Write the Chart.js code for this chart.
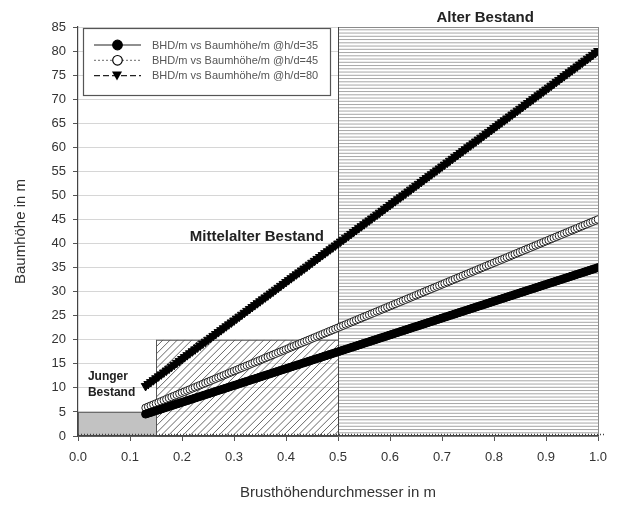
<!DOCTYPE html>
<html>
<head>
<meta charset="utf-8">
<script src="https://cdn.jsdelivr.net/npm/chart.js@4.4.1/dist/chart.umd.min.js"></script>
<style>
  html, body { margin: 0; padding: 0; background: #fff; }
  #wrap { width: 619px; height: 506px; }
</style>
</head>
<body>
<div id="wrap"><canvas id="hoehenChart" width="619" height="506"></canvas></div>
<script>
// Brusthöhendurchmesser in m
const bhd = [
  0.13, 0.135, 0.14, 0.145, 0.15, 0.155, 0.16, 0.165, 0.17, 0.175, 0.18, 0.185, 0.19, 0.195,
  0.20, 0.205, 0.21, 0.215, 0.22, 0.225, 0.23, 0.235, 0.24, 0.245, 0.25, 0.255, 0.26, 0.265, 0.27, 0.275, 0.28, 0.285, 0.29, 0.295,
  0.30, 0.305, 0.31, 0.315, 0.32, 0.325, 0.33, 0.335, 0.34, 0.345, 0.35, 0.355, 0.36, 0.365, 0.37, 0.375, 0.38, 0.385, 0.39, 0.395,
  0.40, 0.405, 0.41, 0.415, 0.42, 0.425, 0.43, 0.435, 0.44, 0.445, 0.45, 0.455, 0.46, 0.465, 0.47, 0.475, 0.48, 0.485, 0.49, 0.495,
  0.50, 0.505, 0.51, 0.515, 0.52, 0.525, 0.53, 0.535, 0.54, 0.545, 0.55, 0.555, 0.56, 0.565, 0.57, 0.575, 0.58, 0.585, 0.59, 0.595,
  0.60, 0.605, 0.61, 0.615, 0.62, 0.625, 0.63, 0.635, 0.64, 0.645, 0.65, 0.655, 0.66, 0.665, 0.67, 0.675, 0.68, 0.685, 0.69, 0.695,
  0.70, 0.705, 0.71, 0.715, 0.72, 0.725, 0.73, 0.735, 0.74, 0.745, 0.75, 0.755, 0.76, 0.765, 0.77, 0.775, 0.78, 0.785, 0.79, 0.795,
  0.80, 0.805, 0.81, 0.815, 0.82, 0.825, 0.83, 0.835, 0.84, 0.845, 0.85, 0.855, 0.86, 0.865, 0.87, 0.875, 0.88, 0.885, 0.89, 0.895,
  0.90, 0.905, 0.91, 0.915, 0.92, 0.925, 0.93, 0.935, 0.94, 0.945, 0.95, 0.955, 0.96, 0.965, 0.97, 0.975, 0.98, 0.985, 0.99, 0.995,
  1.00
];

// Baumhöhe in m bei h/d = 35
const hoehe35 = [
  4.55, 4.725, 4.9, 5.075, 5.25, 5.425, 5.6, 5.775, 5.95, 6.125, 6.3, 6.475, 6.65, 6.825,
  7, 7.175, 7.35, 7.525, 7.7, 7.875, 8.05, 8.225, 8.4, 8.575, 8.75, 8.925, 9.1, 9.275, 9.45, 9.625, 9.8, 9.975, 10.15, 10.325,
  10.5, 10.675, 10.85, 11.025, 11.2, 11.375, 11.55, 11.725, 11.9, 12.075, 12.25, 12.425, 12.6, 12.775, 12.95, 13.125, 13.3, 13.475, 13.65, 13.825,
  14, 14.175, 14.35, 14.525, 14.7, 14.875, 15.05, 15.225, 15.4, 15.575, 15.75, 15.925, 16.1, 16.275, 16.45, 16.625, 16.8, 16.975, 17.15, 17.325,
  17.5, 17.675, 17.85, 18.025, 18.2, 18.375, 18.55, 18.725, 18.9, 19.075, 19.25, 19.425, 19.6, 19.775, 19.95, 20.125, 20.3, 20.475, 20.65, 20.825,
  21, 21.175, 21.35, 21.525, 21.7, 21.875, 22.05, 22.225, 22.4, 22.575, 22.75, 22.925, 23.1, 23.275, 23.45, 23.625, 23.8, 23.975, 24.15, 24.325,
  24.5, 24.675, 24.85, 25.025, 25.2, 25.375, 25.55, 25.725, 25.9, 26.075, 26.25, 26.425, 26.6, 26.775, 26.95, 27.125, 27.3, 27.475, 27.65, 27.825,
  28, 28.175, 28.35, 28.525, 28.7, 28.875, 29.05, 29.225, 29.4, 29.575, 29.75, 29.925, 30.1, 30.275, 30.45, 30.625, 30.8, 30.975, 31.15, 31.325,
  31.5, 31.675, 31.85, 32.025, 32.2, 32.375, 32.55, 32.725, 32.9, 33.075, 33.25, 33.425, 33.6, 33.775, 33.95, 34.125, 34.3, 34.475, 34.65, 34.825,
  35
];

// Baumhöhe in m bei h/d = 45
const hoehe45 = [
  5.85, 6.075, 6.3, 6.525, 6.75, 6.975, 7.2, 7.425, 7.65, 7.875, 8.1, 8.325, 8.55, 8.775,
  9, 9.225, 9.45, 9.675, 9.9, 10.125, 10.35, 10.575, 10.8, 11.025, 11.25, 11.475, 11.7, 11.925, 12.15, 12.375, 12.6, 12.825, 13.05, 13.275,
  13.5, 13.725, 13.95, 14.175, 14.4, 14.625, 14.85, 15.075, 15.3, 15.525, 15.75, 15.975, 16.2, 16.425, 16.65, 16.875, 17.1, 17.325, 17.55, 17.775,
  18, 18.225, 18.45, 18.675, 18.9, 19.125, 19.35, 19.575, 19.8, 20.025, 20.25, 20.475, 20.7, 20.925, 21.15, 21.375, 21.6, 21.825, 22.05, 22.275,
  22.5, 22.725, 22.95, 23.175, 23.4, 23.625, 23.85, 24.075, 24.3, 24.525, 24.75, 24.975, 25.2, 25.425, 25.65, 25.875, 26.1, 26.325, 26.55, 26.775,
  27, 27.225, 27.45, 27.675, 27.9, 28.125, 28.35, 28.575, 28.8, 29.025, 29.25, 29.475, 29.7, 29.925, 30.15, 30.375, 30.6, 30.825, 31.05, 31.275,
  31.5, 31.725, 31.95, 32.175, 32.4, 32.625, 32.85, 33.075, 33.3, 33.525, 33.75, 33.975, 34.2, 34.425, 34.65, 34.875, 35.1, 35.325, 35.55, 35.775,
  36, 36.225, 36.45, 36.675, 36.9, 37.125, 37.35, 37.575, 37.8, 38.025, 38.25, 38.475, 38.7, 38.925, 39.15, 39.375, 39.6, 39.825, 40.05, 40.275,
  40.5, 40.725, 40.95, 41.175, 41.4, 41.625, 41.85, 42.075, 42.3, 42.525, 42.75, 42.975, 43.2, 43.425, 43.65, 43.875, 44.1, 44.325, 44.55, 44.775,
  45
];

// Baumhöhe in m bei h/d = 80
const hoehe80 = [
  10.4, 10.8, 11.2, 11.6, 12, 12.4, 12.8, 13.2, 13.6, 14, 14.4, 14.8, 15.2, 15.6,
  16, 16.4, 16.8, 17.2, 17.6, 18, 18.4, 18.8, 19.2, 19.6, 20, 20.4, 20.8, 21.2, 21.6, 22, 22.4, 22.8, 23.2, 23.6,
  24, 24.4, 24.8, 25.2, 25.6, 26, 26.4, 26.8, 27.2, 27.6, 28, 28.4, 28.8, 29.2, 29.6, 30, 30.4, 30.8, 31.2, 31.6,
  32, 32.4, 32.8, 33.2, 33.6, 34, 34.4, 34.8, 35.2, 35.6, 36, 36.4, 36.8, 37.2, 37.6, 38, 38.4, 38.8, 39.2, 39.6,
  40, 40.4, 40.8, 41.2, 41.6, 42, 42.4, 42.8, 43.2, 43.6, 44, 44.4, 44.8, 45.2, 45.6, 46, 46.4, 46.8, 47.2, 47.6,
  48, 48.4, 48.8, 49.2, 49.6, 50, 50.4, 50.8, 51.2, 51.6, 52, 52.4, 52.8, 53.2, 53.6, 54, 54.4, 54.8, 55.2, 55.6,
  56, 56.4, 56.8, 57.2, 57.6, 58, 58.4, 58.8, 59.2, 59.6, 60, 60.4, 60.8, 61.2, 61.6, 62, 62.4, 62.8, 63.2, 63.6,
  64, 64.4, 64.8, 65.2, 65.6, 66, 66.4, 66.8, 67.2, 67.6, 68, 68.4, 68.8, 69.2, 69.6, 70, 70.4, 70.8, 71.2, 71.6,
  72, 72.4, 72.8, 73.2, 73.6, 74, 74.4, 74.8, 75.2, 75.6, 76, 76.4, 76.8, 77.2, 77.6, 78, 78.4, 78.8, 79.2, 79.6,
  80
];

const serienNamen = [
  'BHD/m vs Baumhöhe/m @h/d=35',
  'BHD/m vs Baumhöhe/m @h/d=45',
  'BHD/m vs Baumhöhe/m @h/d=80'
];

// Bestandsklassen: BHD-Bereich (m) und obere Höhe (m)
const bestandNamen = ['Junger Bestand', 'Mittelalter Bestand', 'Alter Bestand'];
const bestandVon = [0, 0.15, 0.5];
const bestandBis = [0.15, 0.5, 1.0];
const bestandHoehe = [5, 20, 85];

const schrift = "'Liberation Sans', Arial, sans-serif";
Chart.defaults.font.family = schrift;

function punkte(werte) {
  return bhd.map((d, i) => ({ x: d, y: werte[i] }));
}

// Flächen der Bestandsklassen, Legende und Beschriftungen
const bestandPlugin = {
  id: 'bestand',
  beforeDatasetsDraw(chart) {
    const { ctx, scales: { x, y } } = chart;
    const boden = y.getPixelForValue(0);
    ctx.save();

    // Junger Bestand: grau gefüllt
    let x0 = x.getPixelForValue(bestandVon[0]);
    let x1 = x.getPixelForValue(bestandBis[0]);
    let oben = y.getPixelForValue(bestandHoehe[0]);
    ctx.fillStyle = '#c2c2c2';
    ctx.fillRect(x0, oben, x1 - x0, boden - oben);
    ctx.strokeStyle = '#666';
    ctx.lineWidth = 1;
    ctx.strokeRect(x0 + 0.5, oben + 0.5, x1 - x0, boden - oben);

    // Mittelalter Bestand: schräg schraffiert
    x0 = x.getPixelForValue(bestandVon[1]);
    x1 = x.getPixelForValue(bestandBis[1]);
    oben = y.getPixelForValue(bestandHoehe[1]);
    ctx.save();
    ctx.beginPath();
    ctx.rect(x0, oben, x1 - x0, boden - oben);
    ctx.clip();
    ctx.strokeStyle = '#555';
    ctx.lineWidth = 0.9;
    const hoch = boden - oben;
    for (let sx = x0 - hoch; sx < x1 + 8; sx += 7.2) {
      ctx.beginPath();
      ctx.moveTo(sx, boden);
      ctx.lineTo(sx + hoch, oben);
      ctx.stroke();
    }
    ctx.restore();
    ctx.strokeStyle = '#555';
    ctx.strokeRect(x0 + 0.5, oben + 0.5, x1 - x0, boden - oben);

    // Alter Bestand: waagerecht schraffiert
    x0 = x.getPixelForValue(bestandVon[2]);
    x1 = x.getPixelForValue(bestandBis[2]);
    oben = y.getPixelForValue(bestandHoehe[2]);
    ctx.fillStyle = '#fff';
    ctx.fillRect(x0, oben, x1 - x0, boden - oben);
    ctx.strokeStyle = '#a6a6a6';
    ctx.lineWidth = 1;
    for (let py = boden - 3.2; py > oben; py -= 3.25) {
      ctx.beginPath();
      ctx.moveTo(x0, py);
      ctx.lineTo(x1, py);
      ctx.stroke();
    }
    ctx.strokeStyle = '#8a8a8a';
    ctx.strokeRect(x0 + 0.5, oben + 0.5, x1 - x0, boden - oben);
    ctx.strokeStyle = '#444';
    ctx.beginPath();
    ctx.moveTo(x0 + 0.5, oben);
    ctx.lineTo(x0 + 0.5, boden);
    ctx.stroke();

    // gepunktete Linie entlang der Nulllinie
    ctx.strokeStyle = '#444';
    ctx.lineWidth = 1.5;
    ctx.setLineDash([1, 2]);
    ctx.beginPath();
    ctx.moveTo(x.left, boden - 1.5);
    ctx.lineTo(x.right + 6, boden - 1.5);
    ctx.stroke();
    ctx.setLineDash([]);
    ctx.restore();
  },
  afterDraw(chart) {
    const { ctx, scales: { x, y } } = chart;
    ctx.save();

    // Legende oben links im Diagramm
    const lx = 83, ly = 28, lb = 247, lh = 67;
    ctx.fillStyle = '#fff';
    ctx.fillRect(lx, ly, lb, lh);
    ctx.strokeStyle = '#555';
    ctx.lineWidth = 1.2;
    ctx.strokeRect(lx + 0.5, ly + 0.5, lb, lh);

    chart.data.datasets.forEach((ds, i) => {
      const ey = 45 + i * 15.3;
      ctx.strokeStyle = i === 1 ? '#888' : '#222';
      ctx.lineWidth = 1.2;
      ctx.setLineDash(ds.borderDash || []);
      ctx.beginPath();
      ctx.moveTo(94, ey);
      ctx.lineTo(141, ey);
      ctx.stroke();
      ctx.setLineDash([]);
      ctx.fillStyle = ds.pointBackgroundColor;
      ctx.strokeStyle = '#000';
      ctx.lineWidth = 1.2;
      if (ds.pointStyle === 'triangle') {
        ctx.beginPath();
        ctx.moveTo(112, ey - 4);
        ctx.lineTo(122, ey - 4);
        ctx.lineTo(117, ey + 5);
        ctx.closePath();
        ctx.fill();
      } else {
        ctx.beginPath();
        ctx.arc(117.5, ey, 4.8, 0, Math.PI * 2);
        ctx.fill();
        ctx.stroke();
      }
      ctx.fillStyle = '#555';
      ctx.font = '11px ' + schrift;
      ctx.textAlign = 'left';
      ctx.textBaseline = 'middle';
      ctx.fillText(ds.label, 152, ey + 0.5);
    });

    // Beschriftung der Bestandsklassen
    ctx.fillStyle = '#222';
    ctx.font = 'bold 15px ' + schrift;
    ctx.textBaseline = 'middle';
    ctx.textAlign = 'center';
    ctx.fillText(bestandNamen[2], x.getPixelForValue(0.783), y.getPixelForValue(86.8));
    ctx.textAlign = 'right';
    ctx.fillText(bestandNamen[1], x.getPixelForValue(0.473), y.getPixelForValue(41.4));
    ctx.font = 'bold 12px ' + schrift;
    ctx.textAlign = 'left';
    const jung = bestandNamen[0].split(' ');
    ctx.fillText(jung[0], x.getPixelForValue(0.019), y.getPixelForValue(12.3));
    ctx.fillText(jung[1], x.getPixelForValue(0.019), y.getPixelForValue(8.9));
    ctx.restore();
  }
};

const ctx = document.getElementById('hoehenChart').getContext('2d');
const chart = new Chart(ctx, {
  type: 'line',
  data: {
    datasets: [
      {
        label: serienNamen[0],
        data: punkte(hoehe35),
        borderColor: '#000',
        borderWidth: 1,
        pointStyle: 'circle',
        pointRadius: 4,
        pointBackgroundColor: '#000',
        pointBorderColor: '#000',
        pointBorderWidth: 1
      },
      {
        label: serienNamen[1],
        data: punkte(hoehe45),
        borderColor: '#888',
        borderWidth: 1,
        borderDash: [2, 2],
        pointStyle: 'circle',
        pointRadius: 3.8,
        pointBackgroundColor: '#fff',
        pointBorderColor: '#222',
        pointBorderWidth: 1
      },
      {
        label: serienNamen[2],
        data: punkte(hoehe80),
        borderColor: '#000',
        borderWidth: 1,
        borderDash: [6, 3],
        pointStyle: 'triangle',
        pointRotation: 180,
        pointRadius: 5,
        pointBackgroundColor: '#000',
        pointBorderColor: '#000',
        pointBorderWidth: 1
      }
    ]
  },
  options: {
    responsive: false,
    animation: false,
    layout: { padding: { top: 27, right: 21, left: 0, bottom: 0 } },
    plugins: {
      legend: { display: false },
      tooltip: { enabled: false }
    },
    scales: {
      x: {
        type: 'linear',
        min: 0,
        max: 1,
        afterFit: (scale) => { scale.height = 70; },
        ticks: {
          stepSize: 0.1,
          padding: 9,
          color: '#333',
          font: { size: 13 },
          callback: (v) => v.toFixed(1)
        },
        grid: {
          drawOnChartArea: false,
          drawTicks: true,
          tickLength: 5,
          tickColor: '#555'
        },
        border: { color: '#444', width: 1.2, z: 1 },
        title: {
          display: true,
          text: 'Brusthöhendurchmesser in m',
          color: '#333',
          font: { size: 15 },
          padding: { top: 0, bottom: 4 }
        }
      },
      y: {
        min: 0,
        max: 85,
        afterFit: (scale) => { scale.width = 78; },
        ticks: {
          stepSize: 5,
          padding: 7,
          color: '#333',
          font: { size: 13 }
        },
        grid: {
          color: '#d6d6d6',
          lineWidth: 1,
          tickLength: 5,
          tickColor: '#555'
        },
        border: { color: '#444', width: 1.2, z: 1 },
        title: {
          display: true,
          text: 'Baumhöhe in m',
          color: '#333',
          font: { size: 15 },
          padding: { top: 12, bottom: 0 }
        }
      }
    }
  },
  plugins: [bestandPlugin]
});
</script>
</body>
</html>
